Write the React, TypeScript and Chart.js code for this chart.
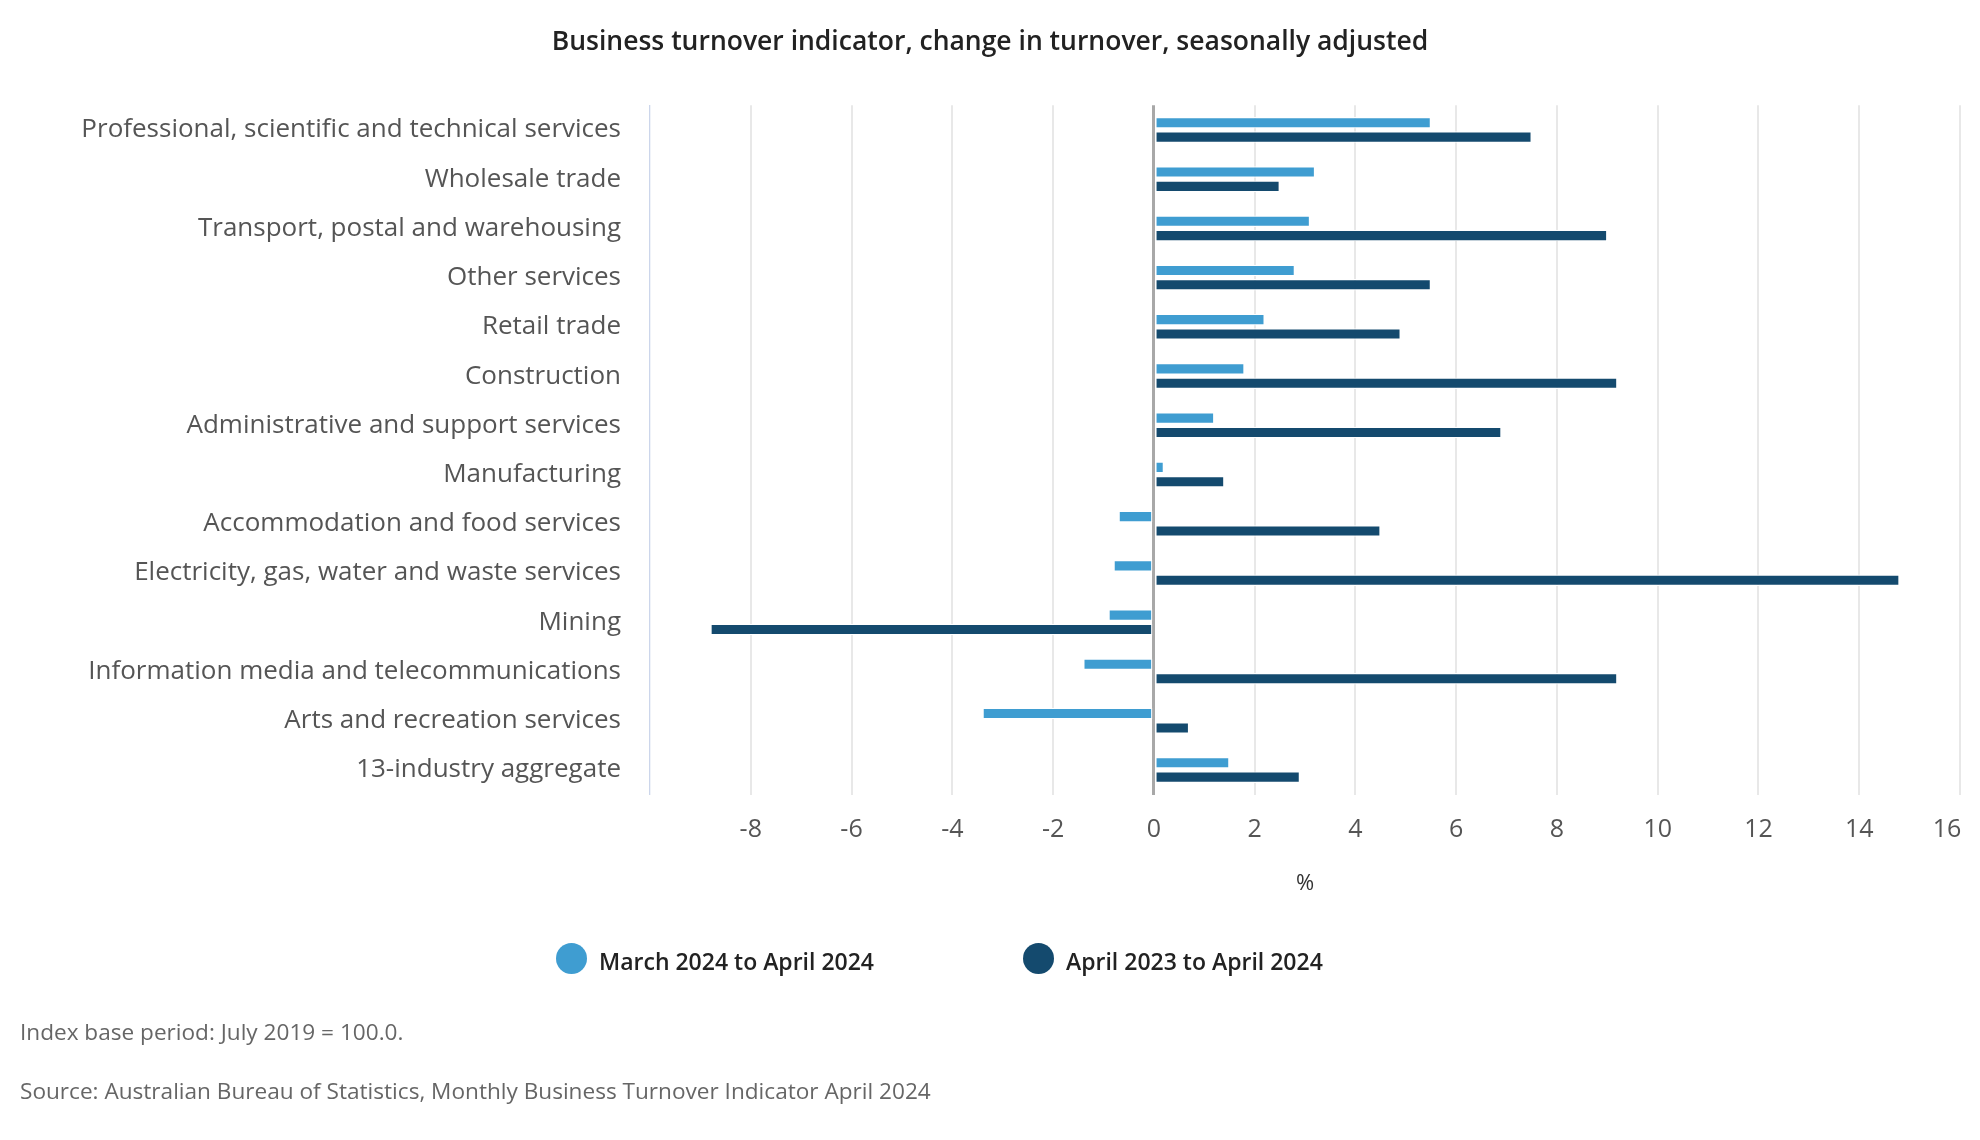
import React, { useEffect, useRef } from "react";
import { Chart, registerables } from "chart.js";

Chart.register(...registerables);

const categories = [
  "Professional, scientific and technical services",
  "Wholesale trade",
  "Transport, postal and warehousing",
  "Other services",
  "Retail trade",
  "Construction",
  "Administrative and support services",
  "Manufacturing",
  "Accommodation and food services",
  "Electricity, gas, water and waste services",
  "Mining",
  "Information media and telecommunications",
  "Arts and recreation services",
  "13-industry aggregate",
];

const seriesNames = ["March 2024 to April 2024", "April 2023 to April 2024"];
const seriesColors = ["#3f9dd1", "#144a6e"];

const marchToApril2024 = [5.5, 3.2, 3.1, 2.8, 2.2, 1.8, 1.2, 0.2, -0.7, -0.8, -0.9, -1.4, -3.4, 1.5];
const april2023ToApril2024 = [7.5, 2.5, 9.0, 5.5, 4.9, 9.2, 6.9, 1.4, 4.5, 14.8, -8.8, 9.2, 0.7, 2.9];

const xMin = -10;
const xMax = 16;
const xStep = 2;

const title = "Business turnover indicator, change in turnover, seasonally adjusted";
const axisTitle = "%";
const footnotes = [
  "Index base period: July 2019 = 100.0.",
  "Source: Australian Bureau of Statistics, Monthly Business Turnover Indicator April 2024",
];

const FONT = '"Open Sans", "Noto Sans", "DejaVu Sans", sans-serif';

export default function App() {
  const ref = useRef<HTMLCanvasElement | null>(null);

  useEffect(() => {
    if (!ref.current) return;
    const chart = new Chart(ref.current, {
      type: "bar",
      data: {
        labels: categories,
        datasets: [
          {
            label: seriesNames[0],
            data: marchToApril2024,
            backgroundColor: seriesColors[0],
            borderColor: "#ffffff",
            borderWidth: 1.2,
            borderSkipped: false,
            barPercentage: 0.8,
            categoryPercentage: 0.584,
          },
          {
            label: seriesNames[1],
            data: april2023ToApril2024,
            backgroundColor: seriesColors[1],
            borderColor: "#ffffff",
            borderWidth: 1.2,
            borderSkipped: false,
            barPercentage: 0.8,
            categoryPercentage: 0.584,
          },
        ],
      },
      options: {
        indexAxis: "y",
        responsive: false,
        animation: false,
        layout: { padding: { left: 20, right: 20, top: 0, bottom: 243.2 } },
        plugins: {
          legend: { display: false },
          tooltip: { enabled: false },
          title: {
            display: true,
            text: title,
            color: "#222222",
            font: { family: FONT, size: 26.5, weight: "600", lineHeight: 1.2 },
            padding: { top: 26.5, bottom: 47 },
          },
        },
        scales: {
          y: {
            type: "category",
            grid: { display: false, drawTicks: false },
            border: { display: true, color: "#ccd6eb", width: 1.3 },
            ticks: {
              color: "#555555",
              font: { family: FONT, size: 26, lineHeight: 1.2 },
              padding: 29,
              autoSkip: false,
            },
            afterFit: (s: any) => {
              s.width = 630;
            },
          },
          x: {
            type: "linear",
            min: xMin,
            max: xMax,
            grid: {
              drawTicks: false,
              color: (c: any) =>
                c.tick && c.tick.value === 0 ? "#a8a8a8" : c.tick && c.tick.value === xMin ? "rgba(0,0,0,0)" : "#e8e8e8",
              lineWidth: (c: any) => (c.tick && c.tick.value === 0 ? 3 : 2),
            },
            border: { display: false },
            ticks: {
              stepSize: xStep,
              color: "#555555",
              font: { family: FONT, size: 25, lineHeight: 1.2 },
              padding: 20.5,
              callback: (v: any) =>
                v === xMin ? "" : v === xMax ? String(v) + "\u00a0\u00a0\u00a0\u00a0" : String(v),
            },
            title: {
              display: true,
              text: axisTitle,
              color: "#333333",
              font: { family: FONT, size: 22, lineHeight: 1.2 },
              padding: { top: 0, bottom: 0 },
            },
            afterFit: (s: any) => {
              s.height = 102.2;
              s.paddingLeft = 0;
              s.paddingRight = 0;
            },
          },
        },
      },
    });
    return () => chart.destroy();
  }, []);

  const legendLefts = [556, 1023];

  return (
    <div
      style={{
        position: "fixed",
        left: 0,
        top: 0,
        width: 1980,
        height: 1140,
        background: "#ffffff",
        fontFamily: FONT,
      }}
    >
      <canvas ref={ref} width={1980} height={1140} style={{ position: "absolute", left: 0, top: 0 }} />
      {seriesNames.map((name, i) => (
        <div
          key={name}
          style={{
            position: "absolute",
            left: legendLefts[i],
            top: 942,
            height: 32,
            display: "flex",
            alignItems: "center",
            whiteSpace: "nowrap",
          }}
        >
          <div
            style={{
              width: 31,
              height: 31,
              borderRadius: "50%",
              background: seriesColors[i],
              marginRight: 12,
            }}
          />
          <span
            style={{
              fontSize: 23,
              fontWeight: 600,
              color: "#222222",
              lineHeight: "32px",
              position: "relative",
              top: 3,
            }}
          >
            {name}
          </span>
        </div>
      ))}
      {footnotes.map((t, i) => (
        <div
          key={t}
          style={{
            position: "absolute",
            left: 20,
            top: [1032, 1091][i] - 15,
            fontSize: 22.6,
            lineHeight: "30px",
            color: "#666666",
            whiteSpace: "nowrap",
          }}
        >
          {t}
        </div>
      ))}
    </div>
  );
}
